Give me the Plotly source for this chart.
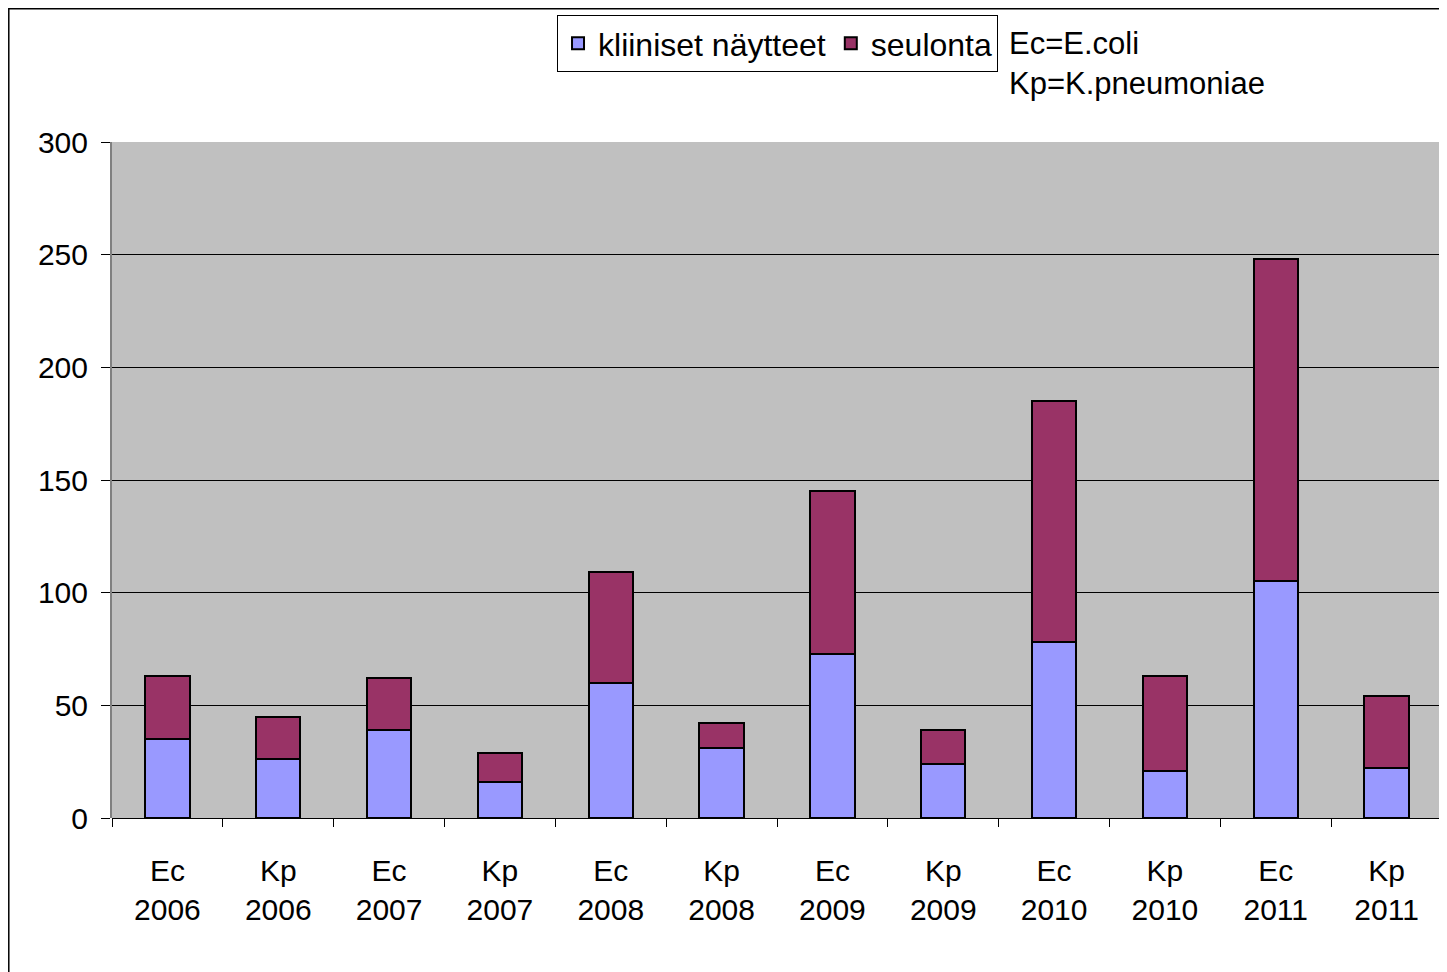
import plotly.graph_objects as go

categories = ["Ec<br>2006", "Kp<br>2006", "Ec<br>2007", "Kp<br>2007", "Ec<br>2008", "Kp<br>2008",
              "Ec<br>2009", "Kp<br>2009", "Ec<br>2010", "Kp<br>2010", "Ec<br>2011", "Kp<br>2011"]
kliiniset = [35, 26, 39, 16, 60, 31, 73, 24, 78, 21, 105, 22]
seulonta = [28, 19, 23, 13, 49, 11, 72, 15, 107, 42, 143, 32]
y_ticks = [0, 50, 100, 150, 200, 250, 300]

FONT = "Liberation Sans, Arial, sans-serif"

fig = go.Figure()
fig.add_trace(go.Bar(name="kliiniset näytteet", x=categories, y=kliiniset,
                     marker=dict(color="#9999FF", line=dict(color="black", width=2))))
fig.add_trace(go.Bar(name="seulonta", x=categories, y=seulonta,
                     marker=dict(color="#993366", line=dict(color="black", width=2))))

fig.update_layout(
    barmode="stack",
    bargap=0.6,
    width=1447, height=972,
    margin=dict(l=104, r=13, t=134, b=162, autoexpand=False),
    paper_bgcolor="white",
    plot_bgcolor="#C0C0C0",
    font=dict(family=FONT, size=30, color="black"),
    legend=dict(orientation="h", x=0.3346, y=1.188, xanchor="left", yanchor="top",
                bordercolor="black", borderwidth=1, bgcolor="white",
                font=dict(family=FONT, size=32), traceorder="normal",
                itemwidth=30),
    showlegend=True,
)
fig.update_xaxes(type="category", tickson="boundaries", ticks="outside", ticklen=8,
                 tickcolor="black", showgrid=False, showline=False, automargin=False,
                 ticklabelstandoff=32,
                 tickfont=dict(family=FONT, size=30))
fig.update_yaxes(range=[0, 300], tickvals=y_ticks, ticks="outside", ticklen=9,
                 tickcolor="black", showgrid=True, gridcolor="black", gridwidth=1,
                 zeroline=True, zerolinecolor="black", zerolinewidth=1,
                 showline=True, linecolor="#808080", linewidth=2, mirror=True,
                 automargin=False, ticklabelstandoff=7,
                 tickfont=dict(family=FONT, size=30))

fig.add_annotation(text="Ec=E.coli<br>Kp=K.pneumoniae", xref="paper", yref="paper",
                   x=0.6728, y=1.1746, xanchor="left", yanchor="top", align="left",
                   showarrow=False, font=dict(family=FONT, size=31))

fig.add_shape(type="rect", xref="paper", yref="paper", x0=-0.0776, y0=-0.5, x1=1.2, y1=1.1971,
              line=dict(color="black", width=1.5), fillcolor="rgba(0,0,0,0)", layer="below")

fig.write_html("out.html")
